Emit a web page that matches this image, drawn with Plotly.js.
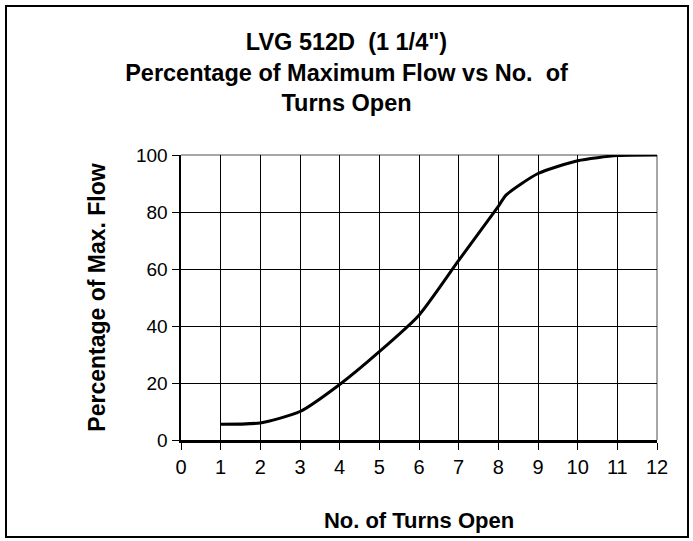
<!DOCTYPE html>
<html>
<head>
<meta charset="utf-8">
<script src="https://cdn.plot.ly/plotly-3.0.1.min.js"></script>
<style>html,body{margin:0;padding:0;background:#fff;}#chart{width:693px;height:541px;}</style>
</head>
<body>
<div id="chart"></div>
<script>
// Data
const turnsOpen = [1, 2, 3, 4, 5, 6, 7, 8, 8.2, 9, 10, 11, 12];
const pctMaxFlow = [5.5, 6, 10, 19.5, 31, 43.8, 63, 82, 86, 93.5, 98, 99.8, 100];
const xTicks = [0, 1, 2, 3, 4, 5, 6, 7, 8, 9, 10, 11, 12];
const yTicks = [0, 20, 40, 60, 80, 100];

const FONT = '"Liberation Sans", Arial, sans-serif';

// plot-area pixel box used only to place the outer chart frame
const PL = 181, PR = 657, PT = 155, PB = 440;
const PW = PR - PL, PH = PB - PT;

const trace = {
  x: turnsOpen,
  y: pctMaxFlow,
  type: 'scatter',
  mode: 'lines',
  line: {color: '#000000', width: 3, shape: 'spline', smoothing: 0.6},
  hoverinfo: 'skip',
  cliponaxis: false
};

const layout = {
  width: 693,
  height: 541,
  margin: {l: PL, r: 693 - PR, t: PT, b: 541 - PB},
  paper_bgcolor: '#ffffff',
  plot_bgcolor: '#ffffff',
  showlegend: false,
  font: {family: FONT, color: '#000000', size: 20},
  title: {
    text: 'LVG 512D  (1 1/4")<br>Percentage of Maximum Flow vs No.  of<br>Turns Open',
    font: {family: FONT, size: 23.5, color: '#000000', weight: 'bold'},
    x: 0.5, xref: 'container', xanchor: 'center',
    y: 1 - 50 / 541, yref: 'container', yanchor: 'middle'
  },
  xaxis: {
    range: [0, 12],
    tickvals: xTicks,
    ticktext: xTicks.map(String),
    showgrid: true, gridcolor: '#000000', gridwidth: 1,
    zeroline: false,
    showline: true, linecolor: '#000000', linewidth: 2.5,
    ticks: 'outside', ticklen: 7, tickwidth: 1, tickcolor: '#000000',
    tickfont: {family: FONT, size: 20, color: '#000000'},
    title: {text: 'No. of Turns Open', font: {family: FONT, size: 22, color: '#000000', weight: 'bold'}, standoff: 36},
    fixedrange: true
  },
  yaxis: {
    range: [0, 100],
    tickvals: yTicks,
    ticktext: yTicks.map(String),
    showgrid: true, gridcolor: '#000000', gridwidth: 1,
    zeroline: false,
    showline: true, linecolor: '#000000', linewidth: 2.5,
    ticks: 'outside', ticklen: 7, tickwidth: 1, tickcolor: '#000000',
    tickfont: {family: FONT, size: 19, color: '#000000'},
    title: {text: 'Percentage of Max. Flow', font: {family: FONT, size: 23, color: '#000000', weight: 'bold'}, standoff: 24},
    fixedrange: true
  },
  shapes: [
    {type: 'line', xref: 'paper', yref: 'paper', x0: 0, x1: 1, y0: 1, y1: 1,
     line: {color: '#888888', width: 1.5}, layer: 'between'},
    {type: 'line', xref: 'paper', yref: 'paper', x0: 1, x1: 1, y0: 0, y1: 1,
     line: {color: '#888888', width: 1.5}, layer: 'between'},
    {type: 'rect', xref: 'paper', yref: 'paper',
     x0: (6 - PL) / PW, x1: (688 - PL) / PW,
     y0: (PB - 537) / PH, y1: (PB - 6) / PH,
     line: {color: '#000000', width: 2}, fillcolor: 'rgba(0,0,0,0)', layer: 'below'}
  ]
};

Plotly.newPlot('chart', [trace], layout, {staticPlot: true, displayModeBar: false});
</script>
</body>
</html>
